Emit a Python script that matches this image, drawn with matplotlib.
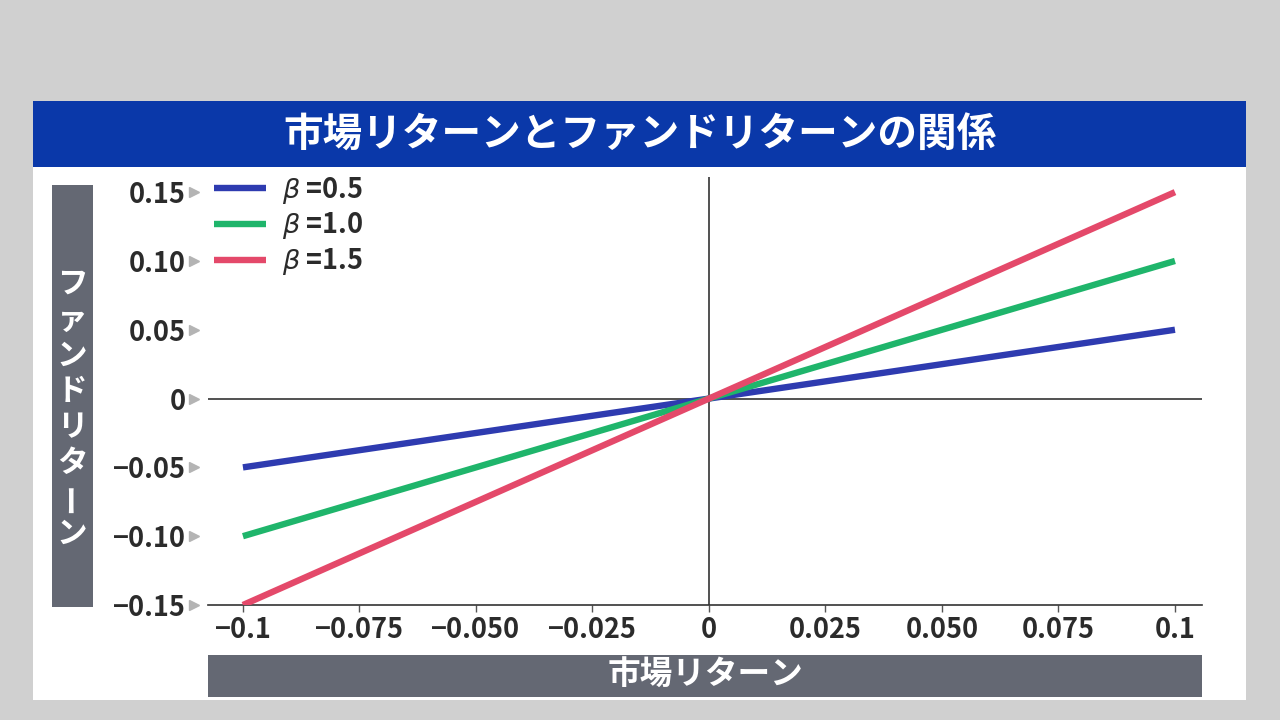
import matplotlib
matplotlib.use("Agg")
import matplotlib.pyplot as plt
from matplotlib.patches import Rectangle
from matplotlib.transforms import blended_transform_factory

plt.rcParams['font.family'] = ['Noto Sans CJK JP', 'DejaVu Sans']

# データ ----------------------------->>>>>
market_x = [-0.1, 0.1]
beta_labels = ['$\\beta$ =0.5', '$\\beta$ =1.0', '$\\beta$ =1.5']
fund_y = [
    [-0.05, 0.05],
    [-0.10, 0.10],
    [-0.15, 0.15],
]
line_colors = ['#2e3bb0', '#1fb56b', '#e4496a']

x_ticks = [-0.1, -0.075, -0.05, -0.025, 0, 0.025, 0.05, 0.075, 0.1]
x_tick_labels = ['−0.1', '−0.075', '−0.050', '−0.025', '0', '0.025', '0.050', '0.075', '0.1']
y_ticks = [0.15, 0.10, 0.05, 0, -0.05, -0.10, -0.15]
y_tick_labels = ['0.15', '0.10', '0.05', '0', '−0.05', '−0.10', '−0.15']

title = '市場リターンとファンドリターンの関係'
x_label = '市場リターン'
y_label = 'ファンドリターン'

W, H = 1280, 720


def fx(px):
    return px / W


def fy(py):
    return 1 - py / H


fig = plt.figure(figsize=(12.8, 7.2), dpi=100)
fig.patch.set_facecolor('#d0d0d0')

# パネルとタイトル帯
fig.patches.append(Rectangle((fx(33), fy(700)), fx(1246 - 33), (700 - 101) / H,
                             transform=fig.transFigure, facecolor='white', edgecolor='none', zorder=0))
fig.patches.append(Rectangle((fx(33), fy(167)), fx(1246 - 33), (167 - 101) / H,
                             transform=fig.transFigure, facecolor='#0a38a9', edgecolor='none', zorder=1))
fig.text(fx(640), fy(135), title, color='white', fontsize=28.5, fontweight='bold',
         ha='center', va='center')

# 軸ラベルの箱
fig.patches.append(Rectangle((fx(52), fy(607)), fx(93 - 52), (607 - 185) / H,
                             transform=fig.transFigure, facecolor='#646873', edgecolor='none', zorder=1))
fig.patches.append(Rectangle((fx(208), fy(697)), fx(1202 - 208), (697 - 655) / H,
                             transform=fig.transFigure, facecolor='#646873', edgecolor='none', zorder=1))
fig.text(fx(705), fy(675), x_label, color='white', fontsize=23.5, fontweight='bold',
         ha='center', va='center')

# 縦書きラベル
step = 35.7
start = 284
for i, ch in enumerate(y_label):
    rot = 90 if ch == 'ー' else 0
    fig.text(fx(72), fy(start + i * step), ch, color='white', fontsize=22, fontweight='bold',
             ha='center', va='center', rotation=rot, rotation_mode='anchor')

# プロット
ax = fig.add_axes([fx(208), fy(605), fx(1202 - 208), (605 - 177) / H])
ax.set_facecolor('none')
ax.set_zorder(5)

for ys, lab, col in zip(fund_y, beta_labels, line_colors):
    ax.plot(market_x, ys, color=col, lw=4.6, label=lab, solid_capstyle='butt', zorder=3)

ax.axhline(0, color='#333333', lw=1.2, zorder=2)
ax.axvline(0, color='#333333', lw=1.2, zorder=2)

ax.set_xlim(-0.1075, 0.1058)
ax.set_ylim(-0.15, 0.161)

for s in ['top', 'right', 'left']:
    ax.spines[s].set_visible(False)
ax.spines['bottom'].set_color('#333333')
ax.spines['bottom'].set_linewidth(1.2)

ax.set_xticks(x_ticks)
ax.set_xticklabels(x_tick_labels)
ax.set_yticks(y_ticks)
ax.set_yticklabels(y_tick_labels)
ax.tick_params(axis='x', length=5, width=1, color='#555555', pad=3,
               labelsize=19.5, labelcolor='#2b2b2b')
ax.tick_params(axis='y', length=0, pad=16, labelsize=19.5, labelcolor='#2b2b2b')
for lbl in ax.get_xticklabels() + ax.get_yticklabels():
    lbl.set_fontweight('bold')

# 目盛りの三角
trans = blended_transform_factory(ax.transAxes, ax.transData)
ax.plot([-14 / (1202 - 208)] * len(y_ticks), y_ticks, linestyle='none', marker='>',
        markersize=7, color='#b4b4b4', transform=trans, clip_on=False)

leg = ax.legend(loc='upper left', bbox_to_anchor=(-0.018, 1.062), frameon=False,
                prop={'size': 19.5, 'weight': 'bold'},
                handlelength=1.9, handletextpad=0.6, labelspacing=0.17)
for t in leg.get_texts():
    t.set_color('#2b2b2b')

fig.savefig('out.png', dpi=100, facecolor=fig.get_facecolor())
